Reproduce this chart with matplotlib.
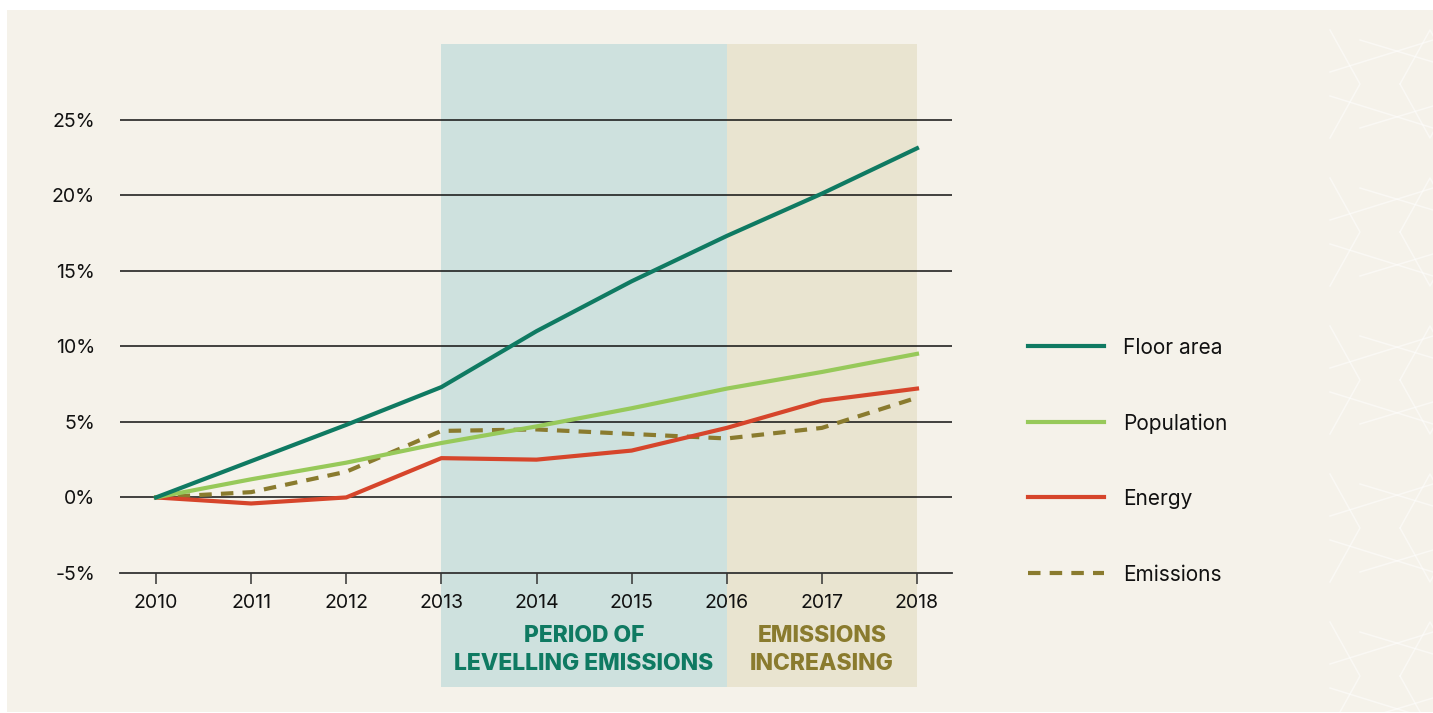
import matplotlib
matplotlib.use("Agg")
import matplotlib.pyplot as plt
from matplotlib.patches import Rectangle
from matplotlib.lines import Line2D

years = [2010, 2011, 2012, 2013, 2014, 2015, 2016, 2017, 2018]
floor_area = [0.0, 2.4, 4.8, 7.3, 11.0, 14.3, 17.3, 20.1, 23.1]
population = [0.0, 1.2, 2.3, 3.6, 4.7, 5.9, 7.2, 8.3, 9.5]
energy = [0.0, -0.4, 0.0, 2.6, 2.5, 3.1, 4.6, 6.4, 7.2]
emissions = [0.0, 0.35, 1.7, 4.4, 4.5, 4.2, 3.9, 4.6, 6.6]
y_ticks = [-5, 0, 5, 10, 15, 20, 25]
y_tick_labels = ["-5%", "0%", "5%", "10%", "15%", "20%", "25%"]
series_names = ["Floor area", "Population", "Energy", "Emissions"]
period1 = (2013, 2016, "PERIOD OF\nLEVELLING EMISSIONS")
period2 = (2016, 2018, "EMISSIONS\nINCREASING")

C_FLOOR = "#0F7A62"
C_POP = "#97C95A"
C_ENERGY = "#D6452B"
C_EMIS = "#8A7B2E"
C_BG = "#F5F2EA"
C_SHADE1 = "#CEE1DE"
C_SHADE2 = "#E9E4D0"

plt.rcParams['font.family'] = ['Inter', 'DejaVu Sans']

W, H = 1433, 713
fig = plt.figure(figsize=(W / 100, H / 100), dpi=100)
fig.patch.set_facecolor("white")
# cream panel
fig.add_artist(Rectangle((7 / W, 1 - 712 / H), (W - 7) / W, (712 - 10) / H,
                         transform=fig.transFigure, facecolor=C_BG, edgecolor="none", zorder=0))

# subtle geometric pattern on the right
pat = dict(color="white", alpha=0.5, lw=1.1, transform=fig.transFigure, zorder=0.5)
x0 = 1330
for k in range(-1, 6):
    yb = 10 + k * 148
    pts = [(x0, yb + 20), (x0 + 30, yb + 74), (x0, yb + 128)]
    fig.add_artist(Line2D([p[0] / W for p in pts], [1 - p[1] / H for p in pts], **pat))
    pts = [(x0 + 70, yb + 74), (x0 + 100, yb + 20), (x0 + 130, yb + 74)]
    fig.add_artist(Line2D([p[0] / W for p in pts], [1 - p[1] / H for p in pts], **pat))
    pts = [(x0 + 70, yb + 74), (x0 + 100, yb + 128), (x0 + 130, yb + 74)]
    fig.add_artist(Line2D([p[0] / W for p in pts], [1 - p[1] / H for p in pts], **pat))
    fig.add_artist(Line2D([x0 / W, (x0 + 103) / W], [1 - (yb + 62) / H, 1 - (yb + 30) / H], **pat))
    fig.add_artist(Line2D([x0 / W, (x0 + 103) / W], [1 - (yb + 86) / H, 1 - (yb + 118) / H], **pat))
    fig.add_artist(Line2D([(x0 + 30) / W, (x0 + 103) / W], [1 - (yb + 30) / H, 1 - (yb + 52) / H], **pat))
    fig.add_artist(Line2D([(x0 + 30) / W, (x0 + 103) / W], [1 - (yb + 118) / H, 1 - (yb + 96) / H], **pat))

ax = fig.add_axes([120 / W, 1 - 573 / H, 832 / W, (573 - 44) / H])
ax.set_facecolor("none")
ax.set_xlim(2010 - 36 / 95.1, 2018 + 35 / 95.1)
ax.set_ylim(-5, 30)

# shaded periods extending below the axis
yb_axes = -(687 - 573) / (573 - 44)
for (a, b, _), col in [(period1, C_SHADE1), (period2, C_SHADE2)]:
    r = Rectangle((a, yb_axes), b - a, 1 - yb_axes, facecolor=col, edgecolor="none",
                  transform=ax.get_xaxis_transform(), clip_on=False, zorder=0)
    ax.add_patch(r)

for yv in y_ticks[1:]:
    ax.axhline(yv, color="#111111", lw=1.1, zorder=1)

for s in ["top", "right", "left"]:
    ax.spines[s].set_visible(False)
ax.spines["bottom"].set_color("#333333")
ax.spines["bottom"].set_linewidth(1.3)
ax.spines["bottom"].set_zorder(1)

ax.plot(years, emissions, color=C_EMIS, lw=3.0, dashes=(3, 2.2), zorder=3, solid_capstyle="butt")
ax.plot(years, energy, color=C_ENERGY, lw=3.0, zorder=4)
ax.plot(years, population, color=C_POP, lw=3.0, zorder=4)
ax.plot(years, floor_area, color=C_FLOOR, lw=3.0, zorder=5)

ax.set_xticks(years)
ax.set_xticklabels([str(y) for y in years], fontsize=14, color="#111111")
ax.tick_params(axis="x", length=8, width=1.1, color="#333333", pad=7)
ax.set_yticks(y_ticks)
ax.set_yticklabels(y_tick_labels, fontsize=14, color="#111111")
ax.tick_params(axis="y", length=0, pad=18)

# period labels
for (a, b, txt), col in [(period1, C_FLOOR), (period2, C_EMIS)]:
    ax.text((a + b) / 2, -(650 - 573) / (573 - 44), txt, transform=ax.get_xaxis_transform(),
            ha="center", va="center", fontsize=16.5, fontweight="heavy", color=col,
            linespacing=1.3)

# legend drawn manually aligned with gridlines
leg_vals = [10, 5, 0, -5]
colors = [C_FLOOR, C_POP, C_ENERGY, C_EMIS]
for name, yv, col in zip(series_names, leg_vals, colors):
    yf = ax.transData.transform((2010, yv))[1] / H
    kw = dict(color=col, lw=3.0, transform=fig.transFigure)
    if name == "Emissions":
        kw.update(dashes=(3, 2.2))
    fig.add_artist(Line2D([1028 / W, 1104 / W], [yf, yf], **kw))
    fig.text(1123 / W, yf - 2 / H, name, fontsize=15, color="#111111", va="center", ha="left")

fig.savefig("out.png", dpi=100, facecolor=fig.get_facecolor())
